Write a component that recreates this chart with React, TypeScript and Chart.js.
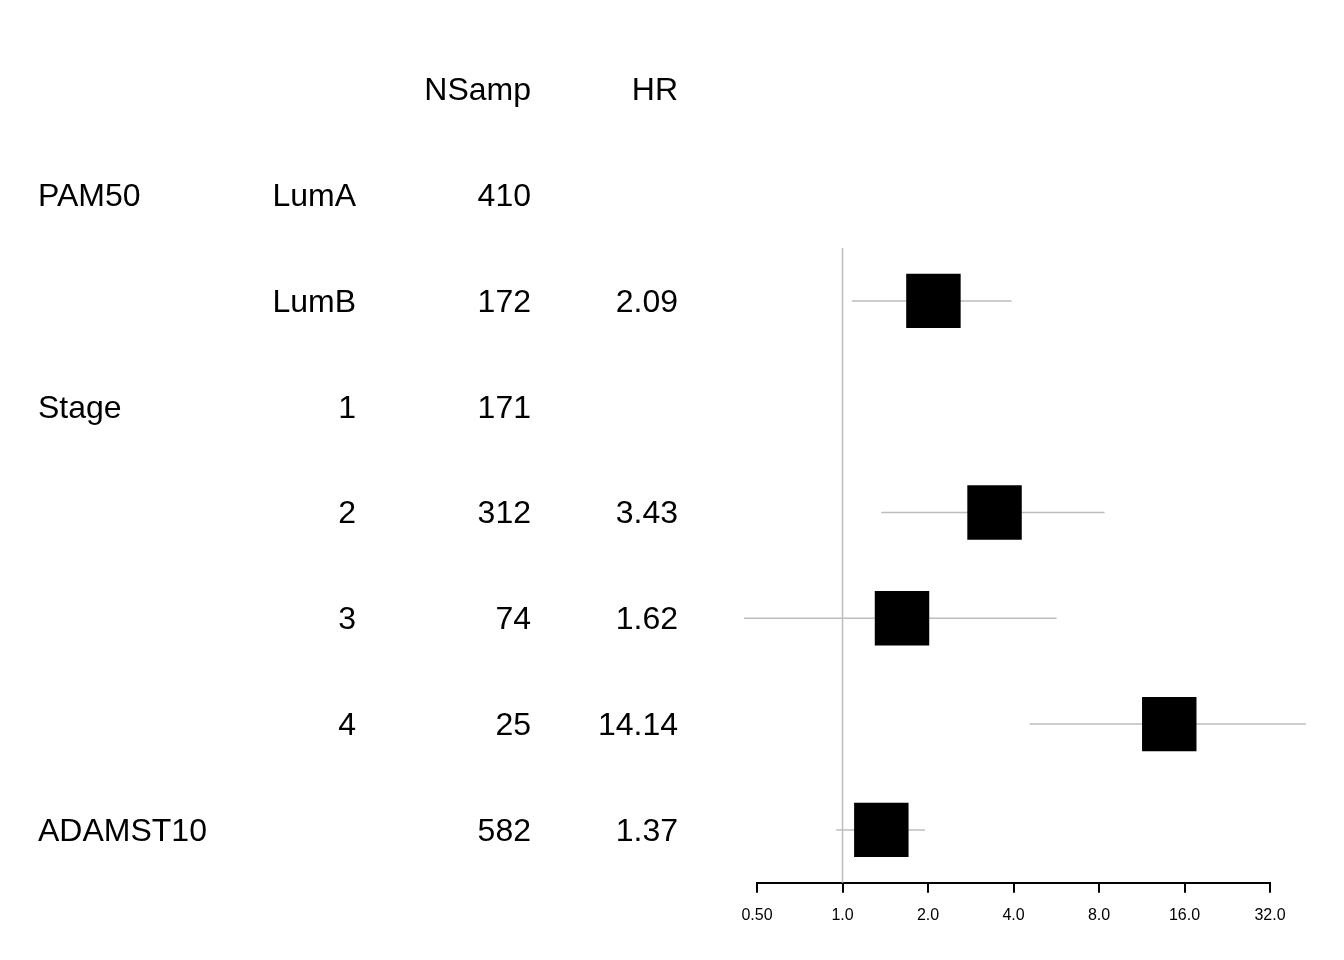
import React, { useEffect, useRef } from "react";
import { Chart, registerables } from "chart.js";

Chart.register(...registerables);

const HEADERS = ["NSamp", "HR"];
const GROUPS = ["PAM50", "", "Stage", "", "", "", "ADAMST10"];
const LEVELS = ["LumA", "LumB", "1", "2", "3", "4", ""];
const NSAMP = [410, 172, 171, 312, 74, 25, 582];
const HR: (number | null)[] = [null, 2.09, null, 3.43, 1.62, 14.14, 1.37];
const LOWER: (number | null)[] = [null, 1.08, null, 1.37, 0.45, 4.56, 0.95];
const UPPER: (number | null)[] = [null, 3.94, null, 8.37, 5.67, 42.8, 1.95];
const X_TICKS = [0.5, 1, 2, 4, 8, 16, 32];
const X_TICK_LABELS = ["0.50", "1.0", "2.0", "4.0", "8.0", "16.0", "32.0"];

const FONT = "'Liberation Sans', Arial, Helvetica, sans-serif";

export default function App() {
  const ref = useRef<HTMLCanvasElement | null>(null);

  useEffect(() => {
    if (!ref.current) return;
    const rows = NSAMP.map((_, i) => i + 1);

    const boxData = rows
      .map((r, i) => (HR[i] != null ? { x: HR[i] as number, y: r } : null))
      .filter((p) => p !== null);

    const ciSets = rows
      .map((r, i) =>
        LOWER[i] != null
          ? {
              type: "line" as const,
              data: [
                { x: LOWER[i] as number, y: r },
                { x: UPPER[i] as number, y: r },
              ],
              borderColor: "#bdbdbd",
              borderWidth: 1.5,
              pointRadius: 0,
              clip: false as any,
              order: 1,
            }
          : null
      )
      .filter((d) => d !== null);

    const tablePlugin = {
      id: "table",
      afterDraw(chart: any) {
        const ctx = chart.ctx;
        const y = chart.scales.y;
        ctx.save();
        ctx.fillStyle = "#000";
        ctx.font = `32px ${FONT}`;
        ctx.textBaseline = "middle";
        const off = 2;
        const yh = y.getPixelForValue(0) + off;
        ctx.textAlign = "right";
        ctx.fillText(HEADERS[0], 531, yh);
        ctx.fillText(HEADERS[1], 678, yh);
        rows.forEach((r, i) => {
          const py = y.getPixelForValue(r) + off;
          ctx.textAlign = "left";
          if (GROUPS[i]) ctx.fillText(GROUPS[i], 38, py);
          ctx.textAlign = "right";
          if (LEVELS[i]) ctx.fillText(LEVELS[i], 356, py);
          ctx.fillText(String(NSAMP[i]), 531, py);
          if (HR[i] != null) ctx.fillText((HR[i] as number).toFixed(2), 678, py);
        });
        ctx.restore();
      },
    };

    const chart = new Chart(ref.current, {
      type: "scatter",
      data: {
        datasets: [
          {
            type: "scatter",
            data: boxData as any,
            pointStyle: "rect",
            pointRadius: 38.5,
            pointHoverRadius: 38.5,
            backgroundColor: "#000",
            borderWidth: 0,
            order: 0,
            clip: false as any,
          },
          ...(ciSets as any[]),
          {
            type: "line",
            data: [
              { x: 1, y: 1.5 },
              { x: 1, y: 7.5 },
            ],
            borderColor: "#bdbdbd",
            borderWidth: 1.5,
            pointRadius: 0,
            order: 2,
            clip: false as any,
          },
        ],
      },
      options: {
        responsive: false,
        devicePixelRatio: 1,
        animation: false,
        events: [],
        layout: { padding: { left: 757, right: 74, top: 248, bottom: 22 } },
        plugins: { legend: { display: false }, tooltip: { enabled: false } },
        scales: {
          x: {
            type: "logarithmic",
            min: 0.5,
            max: 32,
            afterBuildTicks: (scale: any) => {
              scale.ticks = X_TICKS.map((v) => ({ value: v }));
            },
            ticks: {
              autoSkip: false,
              maxRotation: 0,
              color: "#000",
              padding: 13,
              font: { size: 16, family: FONT },
              callback: (v: any) => {
                const idx = X_TICKS.indexOf(Number(v));
                return idx >= 0 ? X_TICK_LABELS[idx] : "";
              },
            },
            grid: {
              drawOnChartArea: false,
              drawTicks: true,
              tickLength: 10,
              color: "#000",
              lineWidth: 2,
            },
            border: { display: true, color: "#000", width: 2 },
          },
          y: {
            type: "linear",
            min: 1.5,
            max: 7.5,
            reverse: true,
            display: false,
          },
        },
      },
      plugins: [tablePlugin],
    });
    return () => chart.destroy();
  }, []);

  return (
    <div style={{ position: "absolute", left: 0, top: 0, width: 1344, height: 960, background: "#fff" }}>
      <canvas ref={ref} width={1344} height={960} />
    </div>
  );
}
